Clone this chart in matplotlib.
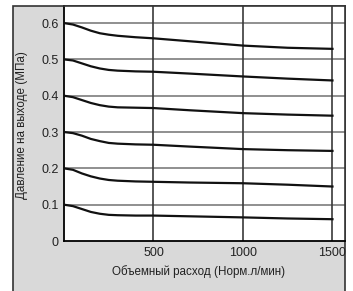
import matplotlib
matplotlib.use('Agg')
import matplotlib.pyplot as plt
from matplotlib.patches import Rectangle

# расход, Норм.л/мин
flow = [0, 50, 100, 150, 200, 250, 300, 400, 500, 700, 1000, 1250, 1500]

# давление на выходе, МПа (по кривым сверху вниз)
p06 = [0.600, 0.596, 0.588, 0.579, 0.572, 0.568, 0.565, 0.561, 0.558, 0.550, 0.538, 0.532, 0.529]
p05 = [0.500, 0.497, 0.489, 0.481, 0.475, 0.471, 0.469, 0.467, 0.466, 0.461, 0.453, 0.447, 0.442]
p04 = [0.400, 0.396, 0.388, 0.380, 0.374, 0.370, 0.368, 0.367, 0.366, 0.360, 0.352, 0.348, 0.345]
p03 = [0.300, 0.297, 0.290, 0.281, 0.275, 0.270, 0.268, 0.266, 0.265, 0.260, 0.253, 0.250, 0.248]
p02 = [0.200, 0.196, 0.186, 0.178, 0.172, 0.168, 0.166, 0.164, 0.163, 0.161, 0.159, 0.155, 0.150]
p01 = [0.100, 0.096, 0.088, 0.080, 0.075, 0.072, 0.071, 0.070, 0.070, 0.068, 0.065, 0.062, 0.060]

x_ticks = [500, 1000, 1500]
x_labels = ['500', '1000', '1500']
y_ticks = [0, 0.1, 0.2, 0.3, 0.4, 0.5, 0.6]
y_labels = ['0', '0.1', '0.2', '0.3', '0.4', '0.5', '0.6']

plt.rcParams['font.family'] = ['Liberation Sans Narrow', 'Liberation Sans', 'DejaVu Sans']

W, H = 353, 291
fig = plt.figure(figsize=(W / 100, H / 100), dpi=100)
fig.patch.set_facecolor('white')

# серая рамка вокруг графика
frame = Rectangle((13 / W, -0.05), (345 - 13) / W, 1.05 - 6 / H,
                  transform=fig.transFigure, facecolor='#d9d9d9',
                  edgecolor='#333333', linewidth=1.2, zorder=-5)
fig.patches.append(frame)

ax = fig.add_axes([64 / W, (H - 241) / H, (345 - 64) / W, (241 - 6) / H])
ax.set_zorder(2)
ax.set_facecolor('white')

for y in y_ticks[1:]:
    ax.axhline(y, color='#8f8f8f', linewidth=1.4, zorder=1)
for x in x_ticks:
    ax.axvline(x, color='#3a3a3a', linewidth=1.2, zorder=1)

for series in [p06, p05, p04, p03, p02, p01]:
    ax.plot(flow, series, color='#111111', linewidth=1.6, zorder=3)

ax.set_xlim(0, 1570)
ax.set_ylim(0, 0.647)
ax.set_xticks(x_ticks)
ax.set_xticklabels(x_labels)
ax.set_yticks(y_ticks)
ax.set_yticklabels(y_labels)
ax.tick_params(length=0, labelsize=9, colors='#222222', pad=4)

for s in ['left', 'bottom']:
    ax.spines[s].set_color('black')
    ax.spines[s].set_linewidth(1.3)
for s in ['top', 'right']:
    ax.spines[s].set_color('#333333')
    ax.spines[s].set_linewidth(1.2)

fig.text(22 / W, 1 - 125 / H, 'Давление на выходе (МПа)', rotation=90,
         ha='center', va='center', fontsize=8.4, color='#222222')
fig.text(199 / W, 1 - 272 / H, 'Объемный расход (Норм.л/мин)',
         ha='center', va='center', fontsize=8.4, color='#222222')

fig.savefig('out.png', dpi=100)
